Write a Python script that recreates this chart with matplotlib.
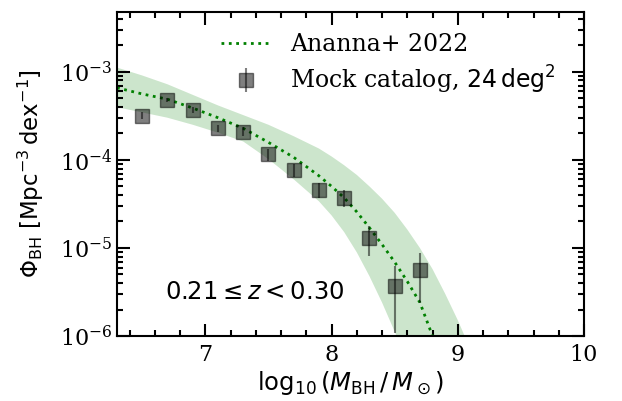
import numpy as np
import matplotlib
matplotlib.use("Agg")
import matplotlib.pyplot as plt

plt.rcParams['font.family'] = ['DejaVu Serif']
plt.rcParams['mathtext.fontset'] = 'dejavusans'

# Mock catalog points (log10 M_BH, Phi)
mock_x = [6.5, 6.7, 6.9, 7.1, 7.3, 7.5, 7.7, 7.9, 8.1, 8.3, 8.5, 8.7]
mock_phi = [3.2e-4, 4.8e-4, 3.7e-4, 2.3e-4, 2.1e-4, 1.17e-4, 7.7e-5, 4.6e-5, 3.7e-5, 1.3e-5, 3.7e-6, 5.6e-6]
mock_lo = [2.9e-4, 4.5e-4, 3.4e-4, 2.1e-4, 1.85e-4, 0.98e-4, 6.4e-5, 3.65e-5, 2.95e-5, 0.81e-5, 1.07e-6, 2.35e-6]
mock_hi = [3.5e-4, 5.1e-4, 4.0e-4, 2.5e-4, 2.35e-4, 1.33e-4, 8.9e-5, 5.5e-5, 4.55e-5, 1.78e-5, 6.3e-6, 8.7e-6]

# Ananna+ 2022 model (log10 Phi)
model_x = [6.3, 6.5, 6.7, 6.9, 7.1, 7.3, 7.5, 7.7, 7.9, 8.0, 8.1, 8.2, 8.3, 8.4, 8.5, 8.6, 8.7, 8.8, 8.9, 9.0, 9.1, 9.3]
model_mid = [-3.18, -3.25, -3.31, -3.41, -3.52, -3.64, -3.80, -3.97, -4.18, -4.30, -4.43, -4.59, -4.77, -4.96, -5.16, -5.38, -5.62, -6.0, -6.4, -6.8, -7.2, -8.0]
model_up = [-2.95, -3.04, -3.14, -3.26, -3.38, -3.49, -3.60, -3.73, -3.87, -3.96, -4.06, -4.17, -4.30, -4.44, -4.60, -4.79, -5.00, -5.24, -5.52, -5.82, -6.15, -6.9]
model_low = [-3.40, -3.46, -3.52, -3.60, -3.69, -3.79, -3.99, -4.22, -4.47, -4.63, -4.82, -5.05, -5.32, -5.62, -5.95, -6.3, -6.7, -7.1, -7.5, -7.9, -8.4, -9.3]

fig = plt.figure(figsize=(6.22, 4.01), dpi=100)
ax = fig.add_axes([117/622, 1-336/401, 467/622, 324/401])

mx = np.array(model_x)
ax.fill_between(mx, 10**np.array(model_low), 10**np.array(model_up),
                color='green', alpha=0.2, lw=0)
ax.plot(mx, 10**np.array(model_mid), ls=':', color='green', lw=2, label='Ananna+ 2022')

phi = np.array(mock_phi)
yerr = [phi - np.array(mock_lo), np.array(mock_hi) - phi]
ax.errorbar(mock_x, phi, yerr=yerr, fmt='s', color='k', alpha=0.5, ms=10,
            elinewidth=1.5, capsize=0, label=r'Mock catalog, $24\,\mathrm{deg}^2$')

ax.set_yscale('log')
ax.set_xlim(6.3, 10)
ax.set_ylim(1e-6, 4.8e-3)
ax.set_xticks([7, 8, 9, 10])
ax.set_xticks(np.arange(6.4, 10.01, 0.2), minor=True)

ax.tick_params(which='both', direction='in', top=True, right=True, labelsize=16, width=1.5)
ax.tick_params(which='major', length=9)
ax.tick_params(which='minor', length=4.5)
ax.tick_params(axis='x', pad=6)
for s in ax.spines.values():
    s.set_linewidth(1.5)

ax.set_xlabel(r'$\log_{10}(M_{\rm BH}\,/\,M_\odot)$', fontsize=17.5, labelpad=2)
ax.set_ylabel(r'$\Phi_{\rm BH}\ [\rm Mpc^{-3}\,dex^{-1}]$', fontsize=16.5, labelpad=10)

ax.text(0.103, 0.133, r'$0.21 \leq z < 0.30$', transform=ax.transAxes,
        fontsize=17.5, va='center', ha='left')

ax.legend(loc='upper right', bbox_to_anchor=(0.975, 0.985), frameon=False, fontsize=17,
          handlelength=2.1, handletextpad=0.8, borderaxespad=0.3, labelspacing=0.3)

fig.savefig('out.png', dpi=100)
